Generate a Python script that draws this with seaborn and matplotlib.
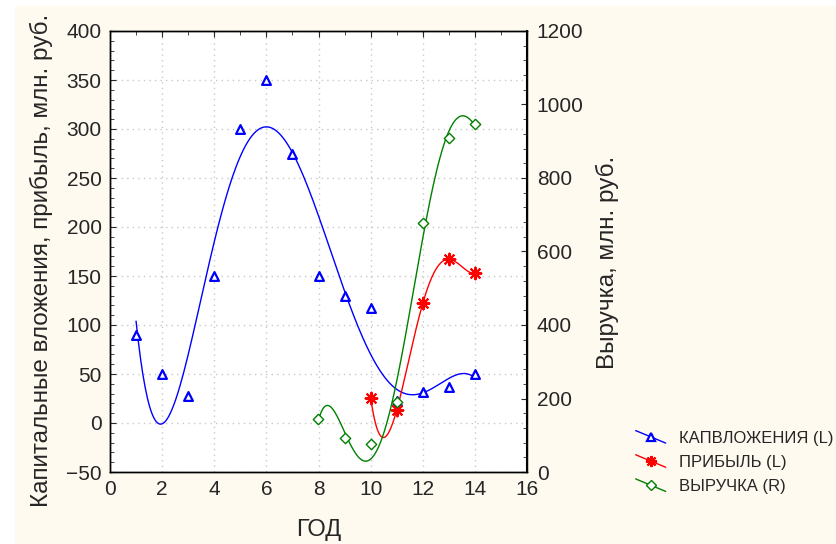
import numpy as np
import pandas as pd
import matplotlib
matplotlib.use('Agg')
import matplotlib.pyplot as plt
import seaborn as sns
from matplotlib.patches import Rectangle
from matplotlib.lines import Line2D
from matplotlib.ticker import MultipleLocator

# data
kap_years = [1, 2, 3, 4, 5, 6, 7, 8, 9, 10, 11, 12, 13, 14]
kap_vals = [90, 50, 28, 150, 300, 350, 275, 150, 130, 117, 22, 32, 37, 50]
prib_years = [10, 11, 12, 13, 14]
prib_vals = [26, 13, 122, 167, 153]
vyr_years = [8, 9, 10, 11, 12, 13, 14]
vyr_vals = [144, 92, 77, 191, 678, 910, 946]

labels = ['КАПВЛОЖЕНИЯ (L)', 'ПРИБЫЛЬ (L)', 'ВЫРУЧКА (R)']

sns.set_style('white')
plt.rcParams['font.family'] = ['Liberation Sans', 'DejaVu Sans']


def fit(xs, ys, deg):
    # polynomial trend line, like the fitted curves of the original
    xs = np.asarray(xs, float)
    c = np.polyfit(xs, ys, deg)
    g = np.linspace(xs.min(), xs.max(), 300)
    return pd.DataFrame({'x': g, 'y': np.polyval(c, g)})


fig = plt.figure(figsize=(8.36, 5.44), dpi=100)
fig.patches.append(Rectangle((15 / 836, 0), 1, 1 - 6 / 544, transform=fig.transFigure,
                             color='#fefaf0', zorder=-10))
ax = fig.add_axes([110 / 836, 1 - 472 / 544, 417 / 836, 441 / 544])
ax2 = ax.twinx()

kap_fit = fit(kap_years, kap_vals, 6)
prib_fit = fit(prib_years, prib_vals, 4)
vyr_fit = fit(vyr_years, vyr_vals, 5)

sns.lineplot(data=kap_fit, x='x', y='y', ax=ax, color='blue', lw=1, sort=False, estimator=None)
sns.lineplot(data=prib_fit, x='x', y='y', ax=ax, color='red', lw=1, sort=False, estimator=None)
sns.lineplot(data=vyr_fit, x='x', y='y', ax=ax2, color='green', lw=1, sort=False, estimator=None)

sns.scatterplot(x=kap_years, y=kap_vals, ax=ax, marker='^', s=40, facecolor='white',
                edgecolor='blue', linewidth=1.6, zorder=5)
sns.scatterplot(x=prib_years, y=prib_vals, ax=ax, marker=(8, 2, 0), s=70,
                color='red', edgecolor='red', linewidth=1.5, zorder=6)
ax2.set_zorder(ax.get_zorder() + 1)
ax2.patch.set_visible(False)
sns.scatterplot(x=vyr_years, y=vyr_vals, ax=ax2, marker='D', s=28, facecolor='white',
                edgecolor='green', linewidth=1, zorder=5)

ax.set_xlim(0, 16)
ax.set_ylim(-50, 400)
ax2.set_ylim(0, 1200)
ax.xaxis.set_major_locator(MultipleLocator(2))
ax.xaxis.set_minor_locator(MultipleLocator(1))
ax.yaxis.set_major_locator(MultipleLocator(50))
ax.yaxis.set_minor_locator(MultipleLocator(10))
ax2.yaxis.set_major_locator(MultipleLocator(200))
ax2.yaxis.set_minor_locator(MultipleLocator(40))
ax.grid(True, which='major', color='#c8c8c8', ls=(0, (1, 3)), lw=1)
ax.tick_params(which='both', direction='in', top=True, right=False, labelsize=15, pad=6)
ax.tick_params(which='major', length=4)
ax.tick_params(which='minor', length=3)
ax2.tick_params(which='both', direction='in', labelsize=15, pad=7)
ax2.tick_params(which='major', length=4)
ax2.tick_params(which='minor', length=3)
for a in (ax, ax2):
    for s in a.spines.values():
        s.set_color('black')
        s.set_linewidth(1)
ax2.spines['right'].set_linewidth(1.5)
ax.set_xlabel('ГОД', fontsize=17, labelpad=14)
ax.set_ylabel('Капитальные вложения, прибыль, млн. руб.', fontsize=17.5)
ax2.set_ylabel('Выручка, млн. руб.', fontsize=17.5)
ax.yaxis.set_label_coords(-0.137, 0.48)
ax2.yaxis.set_label_coords(1.165, 0.476)

# legend outside, handle lines drawn on a slant
handles = [
    Line2D([], [], color='blue', lw=1, marker='^', ms=6, mfc='white', mec='blue', mew=1.6),
    Line2D([], [], color='red', lw=1, marker=(8, 2, 0), ms=8, mec='red', mew=1.5),
    Line2D([], [], color='green', lw=1, marker='D', ms=5, mfc='white', mec='green', mew=1),
]
leg = fig.legend(handles, labels, loc='upper left', bbox_to_anchor=(629 / 836, 1 - 424 / 544),
                 frameon=False, fontsize=12, handlelength=1.8, handletextpad=0.8,
                 labelspacing=0.55, borderaxespad=0)
for ln in leg.get_lines():
    y = ln.get_ydata()
    ln.set_ydata(np.linspace(y[0] + 4.5, y[0] - 4.5, len(y)))

fig.savefig('out.png', dpi=100)
